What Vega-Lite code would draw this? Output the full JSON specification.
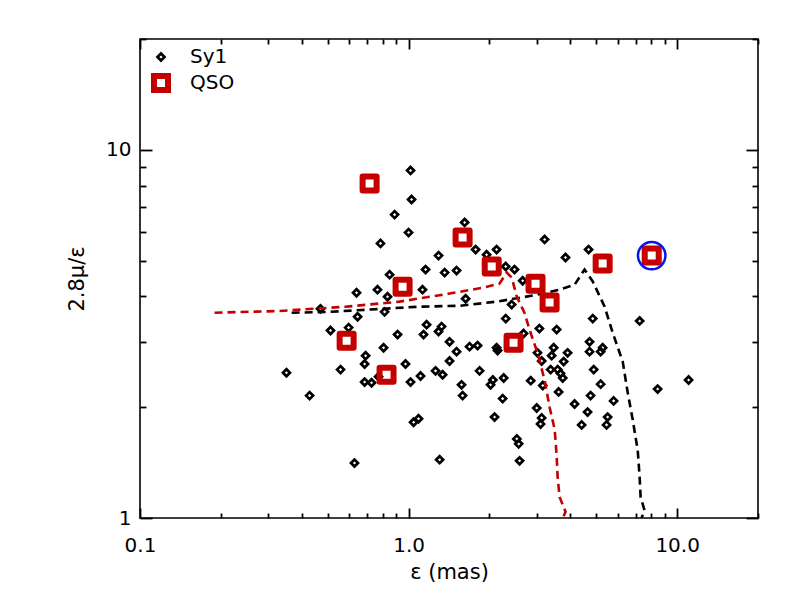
{
  "$schema": "https://vega.github.io/schema/vega-lite/v6.json",
  "width": 618,
  "height": 479,
  "autosize": {"type": "none"},
  "padding": {"left": 140, "top": 39, "right": 42, "bottom": 82},
  "background": "white",
  "datasets": {
    "sources": [
      {"type": "Sy1", "eps": 1.017, "ratio": 8.79},
      {"type": "Sy1", "eps": 1.026, "ratio": 7.33},
      {"type": "Sy1", "eps": 0.887, "ratio": 6.67},
      {"type": "Sy1", "eps": 1.0, "ratio": 5.96},
      {"type": "Sy1", "eps": 0.786, "ratio": 5.57},
      {"type": "Sy1", "eps": 1.617, "ratio": 6.35},
      {"type": "Sy1", "eps": 1.777, "ratio": 5.36},
      {"type": "Sy1", "eps": 1.952, "ratio": 5.19},
      {"type": "Sy1", "eps": 2.127, "ratio": 5.36},
      {"type": "Sy1", "eps": 1.293, "ratio": 5.16},
      {"type": "Sy1", "eps": 1.157, "ratio": 4.73},
      {"type": "Sy1", "eps": 1.362, "ratio": 4.64},
      {"type": "Sy1", "eps": 1.509, "ratio": 4.70},
      {"type": "Sy1", "eps": 0.850, "ratio": 4.58},
      {"type": "Sy1", "eps": 1.127, "ratio": 4.17},
      {"type": "Sy1", "eps": 0.640, "ratio": 4.09},
      {"type": "Sy1", "eps": 0.766, "ratio": 4.17},
      {"type": "Sy1", "eps": 0.835, "ratio": 3.99},
      {"type": "Sy1", "eps": 1.631, "ratio": 3.94},
      {"type": "Sy1", "eps": 0.470, "ratio": 3.70},
      {"type": "Sy1", "eps": 0.814, "ratio": 3.63},
      {"type": "Sy1", "eps": 0.646, "ratio": 3.52},
      {"type": "Sy1", "eps": 3.21, "ratio": 5.71},
      {"type": "Sy1", "eps": 3.84, "ratio": 5.10},
      {"type": "Sy1", "eps": 4.68, "ratio": 5.36},
      {"type": "Sy1", "eps": 2.30, "ratio": 4.82},
      {"type": "Sy1", "eps": 2.48, "ratio": 4.73},
      {"type": "Sy1", "eps": 2.66, "ratio": 4.41},
      {"type": "Sy1", "eps": 2.42, "ratio": 3.80},
      {"type": "Sy1", "eps": 2.30, "ratio": 3.48},
      {"type": "Sy1", "eps": 4.85, "ratio": 3.48},
      {"type": "Sy1", "eps": 7.25, "ratio": 3.43},
      {"type": "Sy1", "eps": 0.512, "ratio": 3.23},
      {"type": "Sy1", "eps": 0.598, "ratio": 3.29},
      {"type": "Sy1", "eps": 1.167, "ratio": 3.35},
      {"type": "Sy1", "eps": 1.327, "ratio": 3.31},
      {"type": "Sy1", "eps": 1.293, "ratio": 3.21},
      {"type": "Sy1", "eps": 0.910, "ratio": 3.15},
      {"type": "Sy1", "eps": 1.137, "ratio": 3.15},
      {"type": "Sy1", "eps": 1.421, "ratio": 3.01},
      {"type": "Sy1", "eps": 0.807, "ratio": 2.90},
      {"type": "Sy1", "eps": 0.692, "ratio": 2.76},
      {"type": "Sy1", "eps": 1.509, "ratio": 2.83},
      {"type": "Sy1", "eps": 1.687, "ratio": 2.92},
      {"type": "Sy1", "eps": 1.807, "ratio": 2.94},
      {"type": "Sy1", "eps": 0.686, "ratio": 2.62},
      {"type": "Sy1", "eps": 0.974, "ratio": 2.62},
      {"type": "Sy1", "eps": 1.421, "ratio": 2.67},
      {"type": "Sy1", "eps": 0.351, "ratio": 2.48},
      {"type": "Sy1", "eps": 0.558, "ratio": 2.53},
      {"type": "Sy1", "eps": 1.260, "ratio": 2.51},
      {"type": "Sy1", "eps": 1.339, "ratio": 2.45},
      {"type": "Sy1", "eps": 1.838, "ratio": 2.51},
      {"type": "Sy1", "eps": 1.108, "ratio": 2.43},
      {"type": "Sy1", "eps": 1.017, "ratio": 2.34},
      {"type": "Sy1", "eps": 0.686, "ratio": 2.34},
      {"type": "Sy1", "eps": 0.728, "ratio": 2.33},
      {"type": "Sy1", "eps": 0.773, "ratio": 2.42},
      {"type": "Sy1", "eps": 1.575, "ratio": 2.30},
      {"type": "Sy1", "eps": 0.428, "ratio": 2.15},
      {"type": "Sy1", "eps": 1.589, "ratio": 2.15},
      {"type": "Sy1", "eps": 1.044, "ratio": 1.82},
      {"type": "Sy1", "eps": 1.089, "ratio": 1.86},
      {"type": "Sy1", "eps": 0.629, "ratio": 1.41},
      {"type": "Sy1", "eps": 1.305, "ratio": 1.44},
      {"type": "Sy1", "eps": 3.07, "ratio": 3.27},
      {"type": "Sy1", "eps": 3.56, "ratio": 3.25},
      {"type": "Sy1", "eps": 2.68, "ratio": 3.17},
      {"type": "Sy1", "eps": 2.127, "ratio": 2.90},
      {"type": "Sy1", "eps": 2.145, "ratio": 2.85},
      {"type": "Sy1", "eps": 4.72, "ratio": 3.01},
      {"type": "Sy1", "eps": 3.47, "ratio": 2.90},
      {"type": "Sy1", "eps": 5.28, "ratio": 2.90},
      {"type": "Sy1", "eps": 3.91, "ratio": 2.81},
      {"type": "Sy1", "eps": 3.02, "ratio": 2.81},
      {"type": "Sy1", "eps": 4.72, "ratio": 2.83},
      {"type": "Sy1", "eps": 5.19, "ratio": 2.83},
      {"type": "Sy1", "eps": 3.41, "ratio": 2.76},
      {"type": "Sy1", "eps": 3.78, "ratio": 2.66},
      {"type": "Sy1", "eps": 3.13, "ratio": 2.67},
      {"type": "Sy1", "eps": 3.38, "ratio": 2.53},
      {"type": "Sy1", "eps": 3.59, "ratio": 2.53},
      {"type": "Sy1", "eps": 3.68, "ratio": 2.47},
      {"type": "Sy1", "eps": 3.75, "ratio": 2.40},
      {"type": "Sy1", "eps": 4.89, "ratio": 2.53},
      {"type": "Sy1", "eps": 2.26, "ratio": 2.40},
      {"type": "Sy1", "eps": 2.06, "ratio": 2.37},
      {"type": "Sy1", "eps": 2.02, "ratio": 2.30},
      {"type": "Sy1", "eps": 2.85, "ratio": 2.36},
      {"type": "Sy1", "eps": 5.19, "ratio": 2.31},
      {"type": "Sy1", "eps": 11.03, "ratio": 2.37},
      {"type": "Sy1", "eps": 8.46, "ratio": 2.24},
      {"type": "Sy1", "eps": 3.16, "ratio": 2.29},
      {"type": "Sy1", "eps": 3.62, "ratio": 2.20},
      {"type": "Sy1", "eps": 4.76, "ratio": 2.15},
      {"type": "Sy1", "eps": 2.24, "ratio": 2.11},
      {"type": "Sy1", "eps": 5.80, "ratio": 2.08},
      {"type": "Sy1", "eps": 4.15, "ratio": 2.04},
      {"type": "Sy1", "eps": 3.00, "ratio": 1.99},
      {"type": "Sy1", "eps": 4.64, "ratio": 1.94},
      {"type": "Sy1", "eps": 2.09, "ratio": 1.88},
      {"type": "Sy1", "eps": 3.13, "ratio": 1.87},
      {"type": "Sy1", "eps": 3.10, "ratio": 1.80},
      {"type": "Sy1", "eps": 5.51, "ratio": 1.88},
      {"type": "Sy1", "eps": 4.41, "ratio": 1.79},
      {"type": "Sy1", "eps": 5.46, "ratio": 1.79},
      {"type": "Sy1", "eps": 2.53, "ratio": 1.64},
      {"type": "Sy1", "eps": 2.57, "ratio": 1.59},
      {"type": "Sy1", "eps": 2.59, "ratio": 1.43},
      {"type": "QSO", "eps": 0.716, "ratio": 8.10},
      {"type": "QSO", "eps": 1.589, "ratio": 5.78},
      {"type": "QSO", "eps": 0.950, "ratio": 4.25},
      {"type": "QSO", "eps": 2.04, "ratio": 4.82},
      {"type": "QSO", "eps": 2.97, "ratio": 4.33},
      {"type": "QSO", "eps": 3.35, "ratio": 3.85},
      {"type": "QSO", "eps": 5.28, "ratio": 4.91},
      {"type": "QSO", "eps": 8.04, "ratio": 5.16},
      {"type": "QSO", "eps": 0.588, "ratio": 3.03},
      {"type": "QSO", "eps": 0.828, "ratio": 2.45},
      {"type": "QSO", "eps": 2.46, "ratio": 2.99}
    ],
    "curves": [
      {"curve": "Sy1 model", "seq": 1, "eps": 0.367, "ratio": 3.61},
      {"curve": "Sy1 model", "seq": 2, "eps": 0.508, "ratio": 3.63},
      {"curve": "Sy1 model", "seq": 3, "eps": 0.800, "ratio": 3.70},
      {"curve": "Sy1 model", "seq": 4, "eps": 1.099, "ratio": 3.75},
      {"curve": "Sy1 model", "seq": 5, "eps": 1.549, "ratio": 3.77},
      {"curve": "Sy1 model", "seq": 6, "eps": 2.127, "ratio": 3.87},
      {"curve": "Sy1 model", "seq": 7, "eps": 2.90, "ratio": 4.02},
      {"curve": "Sy1 model", "seq": 8, "eps": 3.65, "ratio": 4.17},
      {"curve": "Sy1 model", "seq": 9, "eps": 4.15, "ratio": 4.30},
      {"curve": "Sy1 model", "seq": 10, "eps": 4.52, "ratio": 4.73},
      {"curve": "Sy1 model", "seq": 11, "eps": 4.85, "ratio": 4.39},
      {"curve": "Sy1 model", "seq": 12, "eps": 5.37, "ratio": 3.75},
      {"curve": "Sy1 model", "seq": 13, "eps": 5.75, "ratio": 3.19},
      {"curve": "Sy1 model", "seq": 14, "eps": 6.27, "ratio": 2.66},
      {"curve": "Sy1 model", "seq": 15, "eps": 6.54, "ratio": 2.20},
      {"curve": "Sy1 model", "seq": 16, "eps": 6.83, "ratio": 1.85},
      {"curve": "Sy1 model", "seq": 17, "eps": 7.13, "ratio": 1.53},
      {"curve": "Sy1 model", "seq": 18, "eps": 7.25, "ratio": 1.29},
      {"curve": "Sy1 model", "seq": 19, "eps": 7.31, "ratio": 1.14},
      {"curve": "Sy1 model", "seq": 20, "eps": 7.56, "ratio": 1.05},
      {"curve": "Sy1 model", "seq": 21, "eps": 7.37, "ratio": 1.0},
      {"curve": "QSO model", "seq": 1, "eps": 0.1895, "ratio": 3.61},
      {"curve": "QSO model", "seq": 2, "eps": 0.331, "ratio": 3.65},
      {"curve": "QSO model", "seq": 3, "eps": 0.588, "ratio": 3.75},
      {"curve": "QSO model", "seq": 4, "eps": 0.926, "ratio": 3.87},
      {"curve": "QSO model", "seq": 5, "eps": 1.421, "ratio": 4.07},
      {"curve": "QSO model", "seq": 6, "eps": 1.886, "ratio": 4.22},
      {"curve": "QSO model", "seq": 7, "eps": 2.18, "ratio": 4.33},
      {"curve": "QSO model", "seq": 8, "eps": 2.32, "ratio": 4.64},
      {"curve": "QSO model", "seq": 9, "eps": 2.42, "ratio": 4.50},
      {"curve": "QSO model", "seq": 10, "eps": 2.53, "ratio": 3.99},
      {"curve": "QSO model", "seq": 11, "eps": 2.70, "ratio": 3.61},
      {"curve": "QSO model", "seq": 12, "eps": 2.82, "ratio": 3.25},
      {"curve": "QSO model", "seq": 13, "eps": 3.02, "ratio": 2.81},
      {"curve": "QSO model", "seq": 14, "eps": 3.21, "ratio": 2.37},
      {"curve": "QSO model", "seq": 15, "eps": 3.35, "ratio": 2.00},
      {"curve": "QSO model", "seq": 16, "eps": 3.50, "ratio": 1.74},
      {"curve": "QSO model", "seq": 17, "eps": 3.56, "ratio": 1.47},
      {"curve": "QSO model", "seq": 18, "eps": 3.59, "ratio": 1.29},
      {"curve": "QSO model", "seq": 19, "eps": 3.65, "ratio": 1.14},
      {"curve": "QSO model", "seq": 20, "eps": 3.84, "ratio": 1.04},
      {"curve": "QSO model", "seq": 21, "eps": 3.71, "ratio": 0.98}
    ],
    "marked": [
      {"eps": 8.04, "ratio": 5.16}
    ]
  },
  "layer": [
    {
      "data": {"name": "sources"},
      "transform": [{"filter": "datum.type === 'Sy1'"}],
      "mark": {"type": "point", "filled": false, "strokeJoin": "miter", "opacity": 1},
      "encoding": {
        "x": {
          "field": "eps", "type": "quantitative",
          "scale": {"type": "log", "domain": [0.1, 20], "nice": false},
          "axis": {"orient": "bottom", "values": [0.1, 1, 10], "format": ".1f", "offset": -10, "tickSize": 10, "labelPadding": 17, "labelFlush": false, "title": "ε (mas)", "titlePadding": 6}
        },
        "y": {
          "field": "ratio", "type": "quantitative",
          "scale": {"type": "log", "domain": [1, 20], "nice": false},
          "axis": {"orient": "left", "values": [1, 10], "format": "d", "offset": -12, "tickSize": 12, "labelPadding": 9, "labelFlush": false, "title": "2.8μ/ε", "titlePadding": 18}
        },
        "color": {
          "field": "type", "type": "nominal",
          "scale": {"domain": ["Sy1", "QSO"], "range": ["black", "#c40000"]},
          "legend": {"title": null, "orient": "none", "legendX": 11, "legendY": 8, "labelFontSize": 20, "labelOffset": 19, "rowPadding": -3, "symbolOpacity": 1}
        },
        "shape": {
          "field": "type", "type": "nominal",
          "scale": {"domain": ["Sy1", "QSO"], "range": ["diamond", "square"]},
          "legend": {"title": null}
        },
        "size": {
          "field": "type", "type": "ordinal",
          "scale": {"domain": ["Sy1", "QSO"], "range": [49, 196]},
          "legend": {"title": null}
        },
        "strokeWidth": {
          "field": "type", "type": "ordinal",
          "scale": {"domain": ["Sy1", "QSO"], "range": [2.7, 6]},
          "legend": {"title": null}
        }
      }
    },
    {
      "data": {"name": "curves"},
      "transform": [{"filter": "datum.curve === 'Sy1 model'"}],
      "mark": {"type": "line", "color": "black", "strokeWidth": 2.6, "strokeDash": [8, 5], "clip": true},
      "encoding": {
        "x": {
          "field": "eps", "type": "quantitative",
          "scale": {"type": "log", "domain": [0.1, 20], "nice": false},
          "axis": {"orient": "bottom", "values": [0.2, 0.3, 0.4, 0.5, 0.6, 0.7, 0.8, 0.9, 2, 3, 4, 5, 6, 7, 8, 9, 20], "labels": false, "offset": -5, "tickSize": 5, "title": null}
        },
        "y": {
          "field": "ratio", "type": "quantitative",
          "scale": {"type": "log", "domain": [1, 20], "nice": false},
          "axis": {"orient": "left", "values": [2, 3, 4, 5, 6, 7, 8, 9, 20], "labels": false, "offset": -6, "tickSize": 6, "title": null}
        },
        "order": {"field": "seq", "type": "quantitative"}
      }
    },
    {
      "data": {"name": "curves"},
      "transform": [{"filter": "datum.curve === 'QSO model'"}],
      "mark": {"type": "line", "color": "#c40000", "strokeWidth": 2.6, "strokeDash": [8, 5], "clip": true},
      "encoding": {
        "x": {
          "field": "eps", "type": "quantitative",
          "scale": {"type": "log", "domain": [0.1, 20], "nice": false},
          "axis": {"orient": "top", "values": [0.1, 1, 10], "labels": false, "offset": -10, "tickSize": 10, "title": null}
        },
        "y": {
          "field": "ratio", "type": "quantitative",
          "scale": {"type": "log", "domain": [1, 20], "nice": false},
          "axis": {"orient": "right", "values": [1, 10], "labels": false, "offset": -12, "tickSize": 12, "title": null}
        },
        "order": {"field": "seq", "type": "quantitative"}
      }
    },
    {
      "data": {"name": "sources"},
      "transform": [{"filter": "datum.type === 'QSO'"}],
      "mark": {"type": "point", "filled": false, "strokeJoin": "round", "opacity": 1},
      "encoding": {
        "x": {
          "field": "eps", "type": "quantitative",
          "scale": {"type": "log", "domain": [0.1, 20], "nice": false},
          "axis": {"orient": "top", "values": [0.2, 0.3, 0.4, 0.5, 0.6, 0.7, 0.8, 0.9, 2, 3, 4, 5, 6, 7, 8, 9, 20], "labels": false, "offset": -5, "tickSize": 5, "title": null}
        },
        "y": {
          "field": "ratio", "type": "quantitative",
          "scale": {"type": "log", "domain": [1, 20], "nice": false},
          "axis": {"orient": "right", "values": [2, 3, 4, 5, 6, 7, 8, 9, 20], "labels": false, "offset": -6, "tickSize": 6, "title": null}
        },
        "color": {"field": "type", "type": "nominal", "scale": {"domain": ["Sy1", "QSO"], "range": ["black", "#c40000"]}},
        "shape": {"field": "type", "type": "nominal", "scale": {"domain": ["Sy1", "QSO"], "range": ["diamond", "square"]}},
        "size": {"field": "type", "type": "ordinal", "scale": {"domain": ["Sy1", "QSO"], "range": [49, 196]}},
        "strokeWidth": {"field": "type", "type": "ordinal", "scale": {"domain": ["Sy1", "QSO"], "range": [2.7, 6]}}
      }
    },
    {
      "data": {"name": "marked"},
      "mark": {"type": "point", "shape": "circle", "filled": false, "size": 756, "color": "#0a14e6", "strokeWidth": 2.5, "opacity": 1},
      "encoding": {
        "x": {"field": "eps", "type": "quantitative", "axis": null},
        "y": {"field": "ratio", "type": "quantitative", "axis": null}
      }
    }
  ],
  "resolve": {"axis": {"x": "independent", "y": "independent"}},
  "config": {
    "view": {"stroke": "black", "strokeWidth": 1.6},
    "font": "DejaVu Sans",
    "axis": {
      "domain": false,
      "grid": false,
      "ticks": true,
      "zindex": 1,
      "tickColor": "#000000",
      "tickWidth": 1.8,
      "tickOpacity": 1,
      "tickCap": "butt",
      "labelColor": "black",
      "labelFont": "DejaVu Sans",
      "labelFontSize": 20,
      "titleColor": "black",
      "titleFont": "DejaVu Sans",
      "titleFontSize": 21,
      "titleFontWeight": "normal"
    },
    "legend": {"labelFont": "DejaVu Sans", "labelColor": "black", "symbolOpacity": 1}
  }
}
